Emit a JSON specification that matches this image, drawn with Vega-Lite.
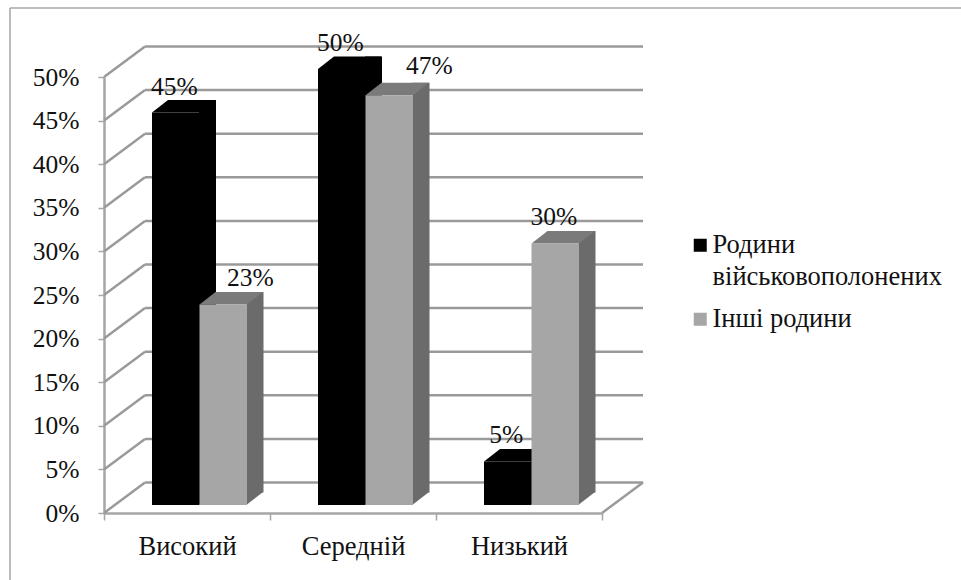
{
"$schema":"https://vega.github.io/schema/vega-lite/v6.json",
"width":498,"height":436,
"autosize":{"type":"none"},
"padding":{"left":104,"top":77,"right":359,"bottom":67},
"background":"white",
"config":{"view":{"stroke":null},"font":"Liberation Serif"},
"datasets":{
"bars":[
{"level":"Високий","series":"Родини військовополонених","value":0.45},
{"level":"Високий","series":"Інші родини","value":0.23},
{"level":"Середній","series":"Родини військовополонених","value":0.50},
{"level":"Середній","series":"Інші родини","value":0.47},
{"level":"Низький","series":"Родини військовополонених","value":0.05},
{"level":"Низький","series":"Інші родини","value":0.30}
],
"ticks":[{"tick":0},{"tick":0.05},{"tick":0.1},{"tick":0.15},{"tick":0.2},{"tick":0.25},{"tick":0.3},{"tick":0.35},{"tick":0.4},{"tick":0.45},{"tick":0.5}]
},
"resolve":{"scale":{"fill":"independent","xOffset":"independent"}},
"layer":[
{"data":{"values":[{"a":1}]},"mark":{"type":"rule","color":"#a6a6a6","strokeWidth":1.5,"xOffset":-177,"x2Offset":442,"yOffset":-69,"y2Offset":-69},
 "encoding":{"x":{"datum":"Високий","type":"nominal","scale":{"domain":["Високий","Середній","Низький"],"paddingInner":0,"paddingOuter":0},"axis":{"title":null,"labelAngle":0,"labelFontSize":26.5,"labelColor":"#111","labelPadding":13,"domainColor":"#a6a6a6","domainWidth":2.5,"tickColor":"#a6a6a6","tickWidth":1.5,"tickSize":7,"tickBand":"extent"}},"x2":{"datum":"Низький"},"y":{"datum":0.5,"type":"quantitative","scale":{"domain":[0,0.5],"nice":false},"axis":{"title":null,"format":".0%","values":[0,0.05,0.1,0.15,0.2,0.25,0.3,0.35,0.4,0.45,0.5],"labelFontSize":25.5,"labelColor":"#111","labelPadding":19,"domainColor":"#a6a6a6","domainWidth":2.5,"tickColor":"#a6a6a6","tickWidth":1.5,"tickSize":6,"grid":false}},"y2":{"datum":0.5}}},
{"data":{"values":[{"a":1}]},"mark":{"type":"rule","color":"#a6a6a6","strokeWidth":1.5,"xOffset":-177,"x2Offset":-177,"yOffset":-69,"y2Offset":503},
 "encoding":{"x":{"datum":"Високий","type":"nominal"},"x2":{"datum":"Високий"},"y":{"datum":0.5,"type":"quantitative"},"y2":{"datum":0}}},
{"data":{"name":"ticks"},"mark":{"type":"rule","color":"#9a9a9a","strokeWidth":2.5,"xOffset":-42,"x2Offset":124,"yOffset":-30.5,"y2Offset":-30.5},
 "encoding":{"x":{"datum":"Високий","type":"nominal"},"x2":{"datum":"Низький"},"y":{"field":"tick","type":"quantitative"},"y2":{"field":"tick"}}},
{"data":{"name":"ticks"},"mark":{"type":"rule","color":"#9a9a9a","strokeWidth":2.5,"xOffset":-83,"x2Offset":-42,"yOffset":0,"y2Offset":-30.5},
 "encoding":{"x":{"datum":"Високий","type":"nominal"},"x2":{"datum":"Високий"},"y":{"field":"tick","type":"quantitative"},"y2":{"field":"tick"}}},
{"data":{"values":[{"a":1}]},"mark":{"type":"rule","color":"#9a9a9a","strokeWidth":2.5,"xOffset":83,"x2Offset":124,"yOffset":0,"y2Offset":-30.5},
 "encoding":{"x":{"datum":"Низький","type":"nominal"},"x2":{"datum":"Низький"},"y":{"datum":0,"type":"quantitative"},"y2":{"datum":0}}},
{"data":{"name":"bars"},"mark":{"type":"bar","width":17,"yOffset":-20.5,"y2Offset":-20.5},
 "encoding":{"x":{"field":"level","type":"nominal"},"xOffset":{"field":"series","type":"nominal","scale":{"domain":["Родини військовополонених","Інші родини"],"range":[79.75,174.75],"paddingInner":0,"paddingOuter":0}},"y":{"field":"value","type":"quantitative"},"y2":{"datum":0},"fill":{"field":"series","type":"nominal","scale":{"domain":["Родини військовополонених","Інші родини"],"range":["#000000","#6b6b6b"]},"legend":null}}},
{"data":{"name":"bars"},"mark":{"type":"point","filled":true,"opacity":1,"size":4,"strokeWidth":0,"shape":"M23 0L23 -13L39.75 -13Z","yOffset":-8},
 "encoding":{"x":{"field":"level","type":"nominal"},"xOffset":{"field":"series","type":"nominal","scale":{"domain":["Родини військовополонених","Інші родини"],"range":[71.75,119.25],"padding":0}},"y":{"datum":0,"type":"quantitative"},"fill":{"field":"series","type":"nominal","scale":{"domain":["Родини військовополонених","Інші родини"],"range":["#000000","#6b6b6b"]},"legend":null}}},
{"data":{"name":"bars"},"mark":{"type":"point","filled":true,"opacity":1,"size":4,"strokeWidth":0,"shape":"M-23.75 0L23.75 0L39.75 -12.5L-7.75 -12.5Z","yOffset":-8},
 "encoding":{"x":{"field":"level","type":"nominal"},"xOffset":{"field":"series","type":"nominal","scale":{"domain":["Родини військовополонених","Інші родини"],"range":[71.75,119.25],"padding":0}},"y":{"field":"value","type":"quantitative"},"fill":{"field":"series","type":"nominal","scale":{"domain":["Родини військовополонених","Інші родини"],"range":["#000000","#7a7a7a"]},"legend":null}}},
{"data":{"name":"bars"},"mark":{"type":"bar","yOffset":-8,"y2Offset":-8},
 "encoding":{"x":{"field":"level","type":"nominal"},"xOffset":{"field":"series","type":"nominal","scale":{"domain":["Родини військовополонених","Інші родини"],"range":[48,143],"paddingInner":0,"paddingOuter":0}},"y":{"field":"value","type":"quantitative"},"y2":{"datum":0},"fill":{"field":"series","type":"nominal","scale":{"domain":["Родини військовополонених","Інші родини"],"range":["#000000","#a6a6a6"]},"legend":{"title":null,"orient":"none","legendX":583,"legendY":155,"symbolType":"square","symbolSize":169,"symbolStrokeWidth":0,"labelFontSize":26.5,"labelColor":"#111","labelOffset":-1,"rowPadding":15,"labelLimit":300,"labelExpr":"datum.label == 'Родини військовополонених' ? ['Родини','військовополонених'] : datum.label","encode":{"labels":{"update":{"lineHeight":{"value":32}}}}}}}},
{"data":{"name":"bars"},"transform":[{"filter":"datum.value != 0.23 && datum.value != 0.47"}],"mark":{"type":"text","fontSize":25.5,"color":"#111","baseline":"alphabetic","dy":-26,"dx":-1.5},
 "encoding":{"x":{"field":"level","type":"nominal"},"xOffset":{"field":"series","type":"nominal","scale":{"domain":["Родини військовополонених","Інші родини"],"range":[71.75,119.25],"padding":0}},"y":{"field":"value","type":"quantitative"},"text":{"field":"value","type":"quantitative","format":".0%"}}},
{"data":{"name":"bars"},"transform":[{"filter":"datum.value == 0.23"}],"mark":{"type":"text","fontSize":25.5,"color":"#111","baseline":"alphabetic","dy":-26,"dx":27},
 "encoding":{"x":{"field":"level","type":"nominal"},"xOffset":{"field":"series","type":"nominal","scale":{"domain":["Родини військовополонених","Інші родини"],"range":[71.75,119.25],"padding":0}},"y":{"field":"value","type":"quantitative"},"text":{"field":"value","type":"quantitative","format":".0%"}}},
{"data":{"name":"bars"},"transform":[{"filter":"datum.value == 0.47"}],"mark":{"type":"text","fontSize":25.5,"color":"#111","baseline":"alphabetic","dy":-29,"dx":40},
 "encoding":{"x":{"field":"level","type":"nominal"},"xOffset":{"field":"series","type":"nominal","scale":{"domain":["Родини військовополонених","Інші родини"],"range":[71.75,119.25],"padding":0}},"y":{"field":"value","type":"quantitative"},"text":{"field":"value","type":"quantitative","format":".0%"}}}
]
}
